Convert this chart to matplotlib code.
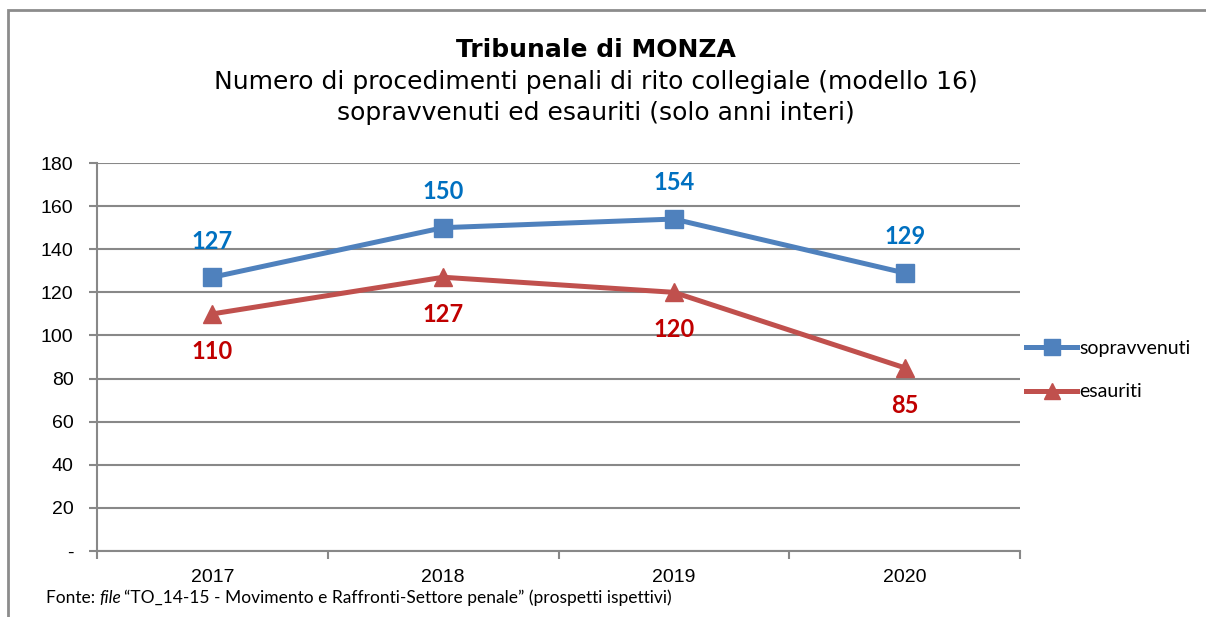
import matplotlib.pyplot as plt
from matplotlib.patches import Rectangle
import numpy as np

anni = ['2017', '2018', '2019', '2020']
sopravvenuti = [127, 150, 154, 129]
esauriti = [110, 127, 120, 85]
yticks = [0, 20, 40, 60, 80, 100, 120, 140, 160, 180]
ylabels = ['-'] + [str(v) for v in yticks[1:]]

blu, rosso = '#4F81BD', '#C0504D'
blu_lab, rosso_lab = '#0070C0', '#C00000'

fig = plt.figure(figsize=(12.06, 6.17), dpi=100)
# cornice grigia del grafico
fig.patches.append(Rectangle((8/1206, -0.1), 1.2, 1.1 - 10/617, transform=fig.transFigure,
                             fill=False, edgecolor='#8c8c8c', lw=2))

ax = fig.add_axes([97/1206, 1 - 551/617, 923/1206, 388/617])
x = np.arange(len(anni))

ax.plot(x, sopravvenuti, color=blu, lw=3.6, marker='s', markersize=12.5, label='sopravvenuti', zorder=3)
ax.plot(x, esauriti, color=rosso, lw=3.6, marker='^', markersize=13, label='esauriti', zorder=3)

for xi, v in zip(x, sopravvenuti):
    ax.annotate(str(v), (xi, v), xytext=(0, 26), textcoords='offset points', ha='center', va='center',
                color=blu_lab, fontsize=17, fontweight='bold', family='Lato')
for xi, v in zip(x, esauriti):
    ax.annotate(str(v), (xi, v), xytext=(0, -27), textcoords='offset points', ha='center', va='center',
                color=rosso_lab, fontsize=17, fontweight='bold', family='Lato')

ax.set_xlim(-0.5, 3.5)
ax.set_ylim(0, 180)
ax.set_yticks(yticks)
ax.set_yticklabels(ylabels, family='Liberation Sans', fontsize=14)
ax.set_xticks(x)
ax.set_xticklabels(anni, family='Liberation Sans', fontsize=14)
ax.set_xticks(np.arange(-0.5, 4, 1), minor=True)
ax.tick_params(axis='x', which='major', length=0, pad=13)
ax.tick_params(axis='x', which='minor', length=6, color='#888888', width=1.5)
ax.tick_params(axis='y', length=6, color='#888888', width=1.5, pad=11)
ax.grid(axis='y', color='#888888', lw=1.5)
ax.set_axisbelow(True)
for s in ['top', 'right']:
    ax.spines[s].set_visible(False)
for s in ['left', 'bottom']:
    ax.spines[s].set_color('#888888')
    ax.spines[s].set_linewidth(1.5)

ax.legend(loc='center left', bbox_to_anchor=(0.9985, 0.466), frameon=False, prop={'family': 'Lato', 'size': 14},
          handlelength=2.6, handletextpad=0.1, labelspacing=1.35, borderaxespad=0, markerscale=0.9)

fig.text(596/1206, 1 - 50/617, 'Tribunale di MONZA', ha='center', va='center', fontsize=18, fontweight='bold')
fig.text(596/1206, 1 - 82/617, 'Numero di procedimenti penali di rito collegiale (modello 16)',
         ha='center', va='center', fontsize=18)
fig.text(596/1206, 1 - 113/617, 'sopravvenuti ed esauriti (solo anni interi)', ha='center', va='center', fontsize=18)

# nota fonte con "file" in corsivo
fig.canvas.draw()
r = fig.canvas.get_renderer()
yf = 1 - 598/617
t1 = fig.text(46/1206, yf, 'Fonte: ', va='center', family='Lato', fontsize=12.5)
w1 = t1.get_window_extent(r).width
t2 = fig.text((46 + w1)/1206, yf, 'file', va='center', family='Lato', fontsize=12.5, style='italic')
w2 = t2.get_window_extent(r).width
fig.text((46 + w1 + w2 + 3)/1206, yf, '\u201cTO_14-15 - Movimento e Raffronti-Settore penale\u201d (prospetti ispettivi)',
         va='center', family='Lato', fontsize=12.5)

fig.savefig('out.png', dpi=100)
